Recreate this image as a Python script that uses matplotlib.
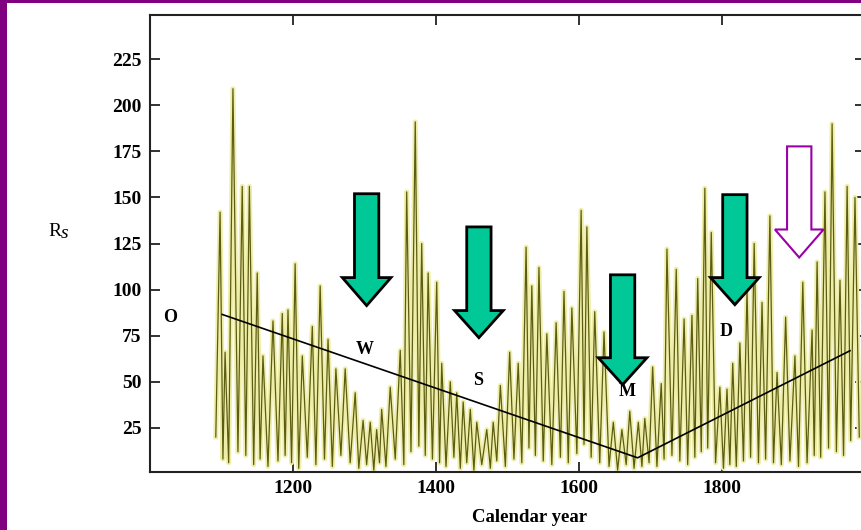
import matplotlib
matplotlib.use('Agg')
import matplotlib.pyplot as plt
import matplotlib.patheffects as pe
from matplotlib.patches import Polygon, Rectangle

# turning points of the reconstructed sunspot series (peak, trough, peak, ...)
years = [1092, 1098, 1102, 1105, 1110, 1116, 1123, 1129, 1134, 1139, 1145, 1150, 1154,
         1158, 1165, 1172, 1179, 1185, 1189, 1193, 1198, 1203, 1208, 1213, 1220, 1227,
         1232, 1238, 1244, 1249, 1255, 1260, 1267, 1273, 1280, 1287, 1292, 1298, 1303,
         1308, 1313, 1317, 1321, 1324, 1330, 1336, 1343, 1350, 1355, 1359, 1365, 1371,
         1376, 1380, 1385, 1389, 1395, 1401, 1405, 1408, 1414, 1420, 1425, 1429, 1434,
         1438, 1443, 1448, 1453, 1457, 1464, 1471, 1476, 1480, 1485, 1490, 1497, 1503,
         1509, 1515, 1520, 1526, 1530, 1534, 1539, 1544, 1550, 1555, 1562, 1568, 1574,
         1579, 1585, 1590, 1597, 1603, 1607, 1611, 1617, 1622, 1629, 1635, 1642, 1648,
         1654, 1660, 1666, 1671, 1677, 1683, 1688, 1692, 1698, 1703, 1709, 1715, 1719,
         1723, 1730, 1736, 1741, 1747, 1752, 1758, 1762, 1766, 1771, 1776, 1780, 1785,
         1791, 1797, 1802, 1807, 1811, 1815, 1820, 1825, 1830, 1835, 1840, 1845, 1851,
         1856, 1861, 1867, 1872, 1877, 1883, 1889, 1895, 1902, 1907, 1913, 1919, 1926,
         1929, 1933, 1938, 1944, 1949, 1954, 1960, 1965, 1970, 1975, 1980, 1986, 1992]
rs = [20, 142, 8, 66, 6, 209, 12, 156, 10, 156, 5, 109, 8,
      64, 4, 83, 7, 87, 10, 89, 6, 114, 3, 64, 9, 80,
      5, 102, 8, 73, 4, 57, 10, 57, 6, 44, 3, 29, 5,
      28, 2, 24, 6, 35, 4, 47, 8, 67, 5, 153, 12, 191,
      15, 125, 10, 109, 8, 104, 6, 60, 4, 50, 9, 44, 3,
      39, 6, 35, 2, 28, 5, 24, 3, 28, 7, 48, 4, 66,
      8, 60, 6, 123, 14, 102, 10, 112, 7, 76, 5, 82, 9,
      99, 6, 90, 11, 143, 16, 134, 9, 88, 6, 77, 4, 28,
      2, 24, 5, 34, 3, 28, 4, 30, 6, 58, 4, 49, 8,
      122, 10, 111, 7, 84, 5, 86, 9, 106, 12, 155, 14, 131,
      6, 47, 3, 46, 5, 60, 4, 71, 7, 100, 9, 125, 6,
      93, 8, 140, 6, 55, 5, 85, 7, 64, 4, 104, 6, 78,
      10, 115, 9, 153, 14, 190, 12, 105, 10, 156, 18, 150, 20]

# trend line: start, minimum, end
trend_years = [1101, 1682, 1979]
trend_vals = [86.5, 8.7, 66.8]

# minima labels
labels = ['O', 'W', 'S', 'M', 'D']
label_x = [1028, 1301, 1459, 1668, 1806]
label_y = [85, 67.4, 50.5, 44.6, 77.2]

# arrows: centre year, top, head base, tip
arrow_x = [1303, 1460, 1661, 1818]
arrow_top = [152, 134, 108, 151.5]
arrow_base = [106.5, 88.6, 63, 106.5]
arrow_tip = [91.3, 73.9, 48.4, 91.8]
open_arrow = (1908, 177.7, 132.6, 117.4)


def arrow_poly(cx, top, base, tip, sw=17, hw=34):
    return [(cx - sw, top), (cx + sw, top), (cx + sw, base), (cx + hw, base),
            (cx, tip), (cx - hw, base), (cx - sw, base)]


serif = 'Liberation Serif'

fig = plt.figure(figsize=(8.61, 5.30), dpi=100)
ax = fig.add_axes([150 / 861, 58 / 530, 715 / 861, 457 / 530])

ax.plot(years, rs, color='#5c5c12', linewidth=0.9,
        path_effects=[pe.Stroke(linewidth=3.6, foreground='#eeeea8'), pe.Normal()])
ax.plot(trend_years, trend_vals, color='black', linewidth=1.2)

for cx, t, b, tp in zip(arrow_x, arrow_top, arrow_base, arrow_tip):
    ax.add_patch(Polygon(arrow_poly(cx, t, b, tp), closed=True, facecolor='#00c896',
                         edgecolor='black', linewidth=2, zorder=5))
ax.add_patch(Polygon(arrow_poly(*open_arrow), closed=True, facecolor='white',
                     edgecolor='#9a00a6', linewidth=1.5, zorder=5))

for lab, lx, ly in zip(labels, label_x, label_y):
    ax.text(lx, ly, lab, fontfamily=serif, fontweight='bold', fontsize=13,
            ha='center', va='center', zorder=6)

ax.set_xlim(1000, 2000)
ax.set_ylim(1, 249)
ax.set_xticks([1200, 1400, 1600, 1800])
ax.set_yticks([25, 50, 75, 100, 125, 150, 175, 200, 225])
ax.tick_params(direction='in', length=7, width=1.3, top=True, right=True,
               labelsize=14, pad=6, color='#222222')
for lbl in ax.get_xticklabels() + ax.get_yticklabels():
    lbl.set_fontfamily(serif)
    lbl.set_fontweight('bold')
for sp in ax.spines.values():
    sp.set_linewidth(1.5)
    sp.set_color('#222222')

fig.text(530 / 861, 1 - 518 / 530, 'Calendar year', fontfamily=serif, fontweight='bold',
         fontsize=13.5, ha='center', va='center')
fig.text(48 / 861, 1 - 232 / 530, 'R', fontfamily=serif, fontsize=14,
         ha='left', va='center')
fig.text(61 / 861, 1 - 233 / 530, 's', fontfamily=serif, fontstyle='italic', fontsize=14,
         ha='left', va='center')

# purple frame pieces of the slide
fig.patches.append(Rectangle((0, 0), 7 / 861, 1, transform=fig.transFigure,
                             facecolor='#800080', edgecolor='none'))
fig.patches.append(Rectangle((0, 1 - 3 / 530), 1, 3 / 530, transform=fig.transFigure,
                             facecolor='#800080', edgecolor='none'))

plt.savefig('out.png', dpi=100)
